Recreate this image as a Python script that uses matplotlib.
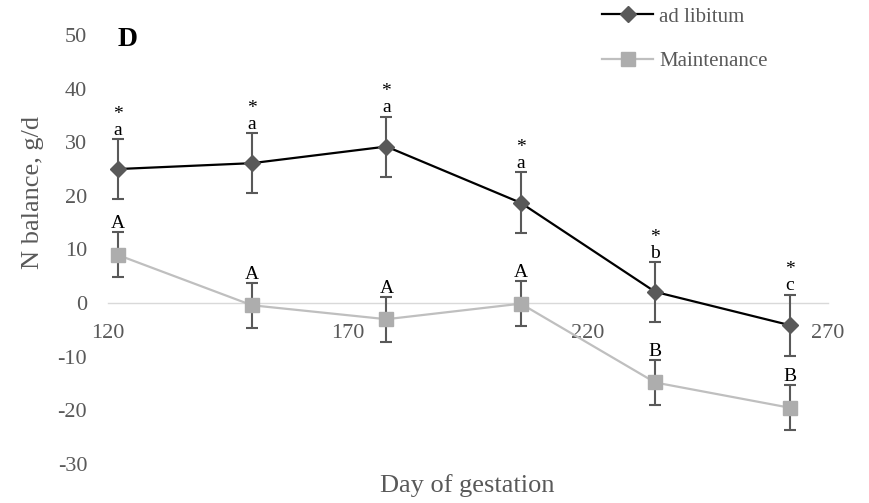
import matplotlib
matplotlib.use('Agg')
import matplotlib.pyplot as plt
from matplotlib.lines import Line2D

plt.rcParams['font.family'] = ['Liberation Serif', 'DejaVu Serif']
plt.rcParams['axes.unicode_minus'] = False

# N balance by day of gestation, mean +/- SE
days = [122, 150, 178, 206, 234, 262]
adlib = [25.0, 26.1, 29.2, 18.7, 2.1, -4.1]
adlib_se = [5.6, 5.6, 5.6, 5.7, 5.6, 5.7]
maint = [9.0, -0.4, -3.0, -0.1, -14.8, -19.5]
maint_se = [4.2, 4.2, 4.2, 4.2, 4.2, 4.2]
adlib_letters = ['a', 'a', 'a', 'a', 'b', 'c']
maint_letters = ['A', 'A', 'A', 'A', 'B', 'B']
xticks = [120, 170, 220, 270]
yticks = [-30, -20, -10, 0, 10, 20, 30, 40, 50]

grey = '#595959'

fig = plt.figure(figsize=(8.69, 5.03), dpi=100)
ax = fig.add_axes([108/869, 1 - 464/503, 720/869, 429/503])

ax.errorbar(days, maint, yerr=maint_se, fmt='-', color='#BFBFBF', lw=1.6,
            marker='s', ms=9.5, mfc='#ADADAD', mec='#ADADAD',
            ecolor=grey, elinewidth=1.5, capsize=4, capthick=1.5, zorder=3)
ax.errorbar(days, adlib, yerr=adlib_se, fmt='-', color='black', lw=1.6,
            marker='D', ms=8, mfc=grey, mec=grey,
            ecolor=grey, elinewidth=1.5, capsize=4, capthick=1.5, zorder=4)

# significance letters above the error bars
for x, y, e, lab in zip(days, adlib, adlib_se, adlib_letters):
    ax.annotate(lab, (x, y + e), xytext=(0, 3), textcoords='offset points',
                ha='center', va='baseline', fontsize=14)
    ax.annotate('*', (x, y + e), xytext=(0, 14.5), textcoords='offset points',
                ha='center', va='baseline', fontsize=14)
for x, y, e, lab in zip(days, maint, maint_se, maint_letters):
    ax.annotate(lab, (x, y + e), xytext=(0, 3), textcoords='offset points',
                ha='center', va='baseline', fontsize=14)

ax.set_xlim(120, 270)
ax.set_ylim(-30, 50)
ax.set_xticks(xticks)
ax.set_yticks(yticks)
for s in ['top', 'right', 'left']:
    ax.spines[s].set_visible(False)
ax.spines['bottom'].set_position(('data', 0))
ax.spines['bottom'].set_color('#D9D9D9')
ax.spines['bottom'].set_linewidth(1.0)
ax.spines['bottom'].set_zorder(1)
ax.tick_params(axis='x', length=0, pad=15, labelsize=16, labelcolor=grey)
ax.tick_params(axis='y', length=0, pad=15, labelsize=16, labelcolor=grey)

fig.text(33/869, 1 - 192/503, 'N balance, g/d', rotation=90, ha='center',
         va='center', fontsize=19, color=grey)
fig.text(467/869, 1 - 492/503, 'Day of gestation', ha='center',
         va='baseline', fontsize=19, color=grey)
fig.text(118/869, 1 - 46/503, 'D', fontweight='bold', fontsize=20,
         va='baseline')

handles = [Line2D([], [], color='black', lw=1.6, marker='D', ms=8,
                  mfc=grey, mec=grey),
           Line2D([], [], color='#BFBFBF', lw=1.6, marker='s', ms=9.5,
                  mfc='#ADADAD', mec='#ADADAD')]
ax.legend(handles, ['ad libitum', 'Maintenance'], loc='upper left',
          bbox_to_anchor=(602/869, 1 - 7/503), bbox_transform=fig.transFigure,
          frameon=False, fontsize=15, handlelength=2.45, handletextpad=0.3,
          labelspacing=1.2, borderpad=0, borderaxespad=0, labelcolor=grey)

fig.savefig('out.png', dpi=100)
